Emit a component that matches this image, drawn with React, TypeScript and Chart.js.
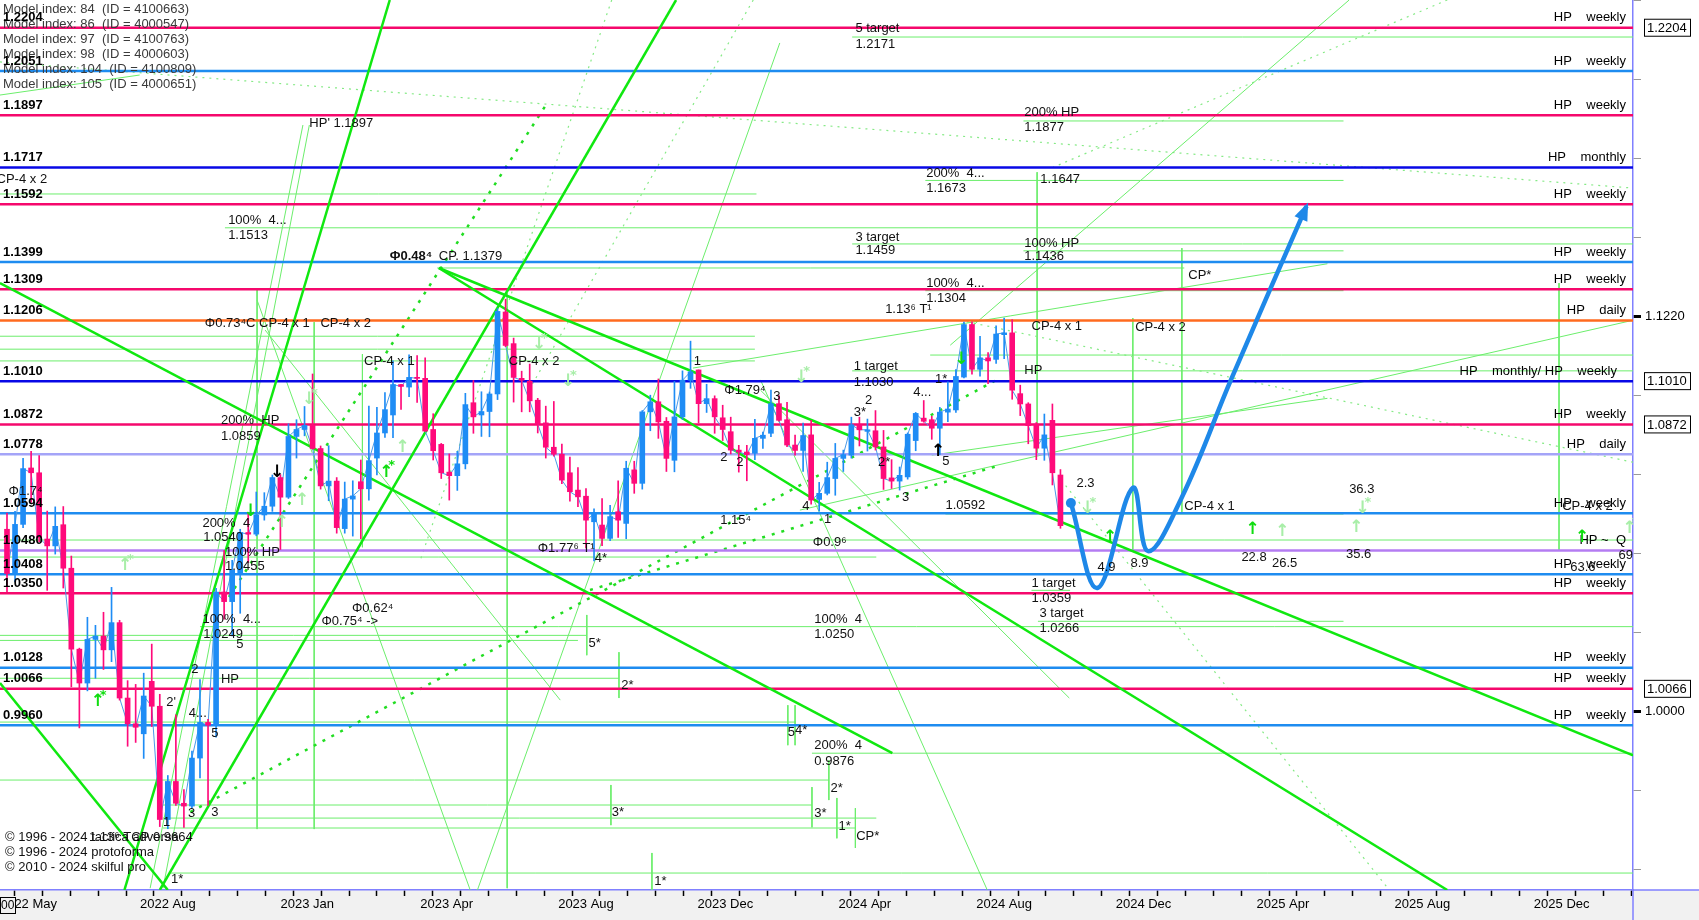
import React, { useEffect, useRef } from 'react';
import { Chart, registerables } from 'chart.js';

Chart.register(...registerables);

const FONT = '"Liberation Sans", Arial, sans-serif';

// ---- weekly candles (bar index 0 = first week shown) ----
const OPEN = [1.0545,1.0410,1.0560,1.0735,1.0720,1.0515,1.0494,1.0559,1.0426,1.0183,1.0083,1.0212,1.0222,1.0181,1.0262,1.0039,0.9964,0.9935,1.0088,1.0015,
0.9690,0.9798,0.9736,0.9728,0.9865,0.9968,0.9960,1.0354,1.0325,1.0410,1.0535,1.0530,1.0589,1.0616,1.0705,1.0644,1.0834,1.0856,1.0869,1.0796,
1.0679,1.0694,1.0547,1.0638,1.0692,1.0670,1.0766,1.0845,1.0902,1.0999,1.0991,1.1022,1.1019,1.0856,1.0809,1.0722,1.0711,1.0748,1.0941,1.0902,
1.0913,1.0969,1.1234,1.1131,1.1019,1.1010,1.0949,1.0877,1.0800,1.0778,1.0720,1.0666,1.0647,1.0568,1.0558,1.0517,1.0599,1.0563,1.0729,1.0687,
1.0912,1.0944,1.0882,1.0759,1.0896,1.1013,1.1046,1.0938,1.0954,1.0893,1.0849,1.0791,1.0785,1.0781,1.0828,1.0844,1.0938,1.0887,1.0807,1.0790,
1.0839,1.0637,1.0656,1.0702,1.0765,1.0775,1.0871,1.0850,1.0852,1.0801,1.0704,1.0694,1.0707,1.0821,1.0892,1.0887,1.0860,1.0911,1.0918,1.1023,
1.1193,1.1048,1.1085,1.1080,1.1160,1.1166,1.0970,1.0937,1.0873,1.0797,1.0885,1.0713];
const HIGH = [1.0595,1.0600,1.0765,1.0787,1.0774,1.0601,1.0614,1.0615,1.0463,1.0186,1.0278,1.0254,1.0293,1.0368,1.0269,1.0090,1.0079,1.0112,1.0198,1.0050,
0.9815,0.9990,0.9775,0.9885,1.0093,0.9977,1.0365,1.0480,1.0450,1.0545,1.0594,1.0660,1.0658,1.0713,1.0714,1.0874,1.0887,1.0929,1.1033,1.0804,
1.0805,1.0705,1.0691,1.0695,1.0760,1.0930,1.0926,1.0973,1.1075,1.1000,1.1095,1.1092,1.1085,1.0906,1.0812,1.0779,1.0787,1.0971,1.1012,1.0976,
1.0975,1.1245,1.1276,1.1149,1.1042,1.1065,1.0955,1.0930,1.0945,1.0810,1.0769,1.0736,1.0671,1.0608,1.0640,1.0619,1.0695,1.0756,1.0756,1.0916,
1.0965,1.1017,1.0894,1.1009,1.1043,1.1139,1.1046,1.1000,1.0963,1.0933,1.0895,1.0806,1.0806,1.0888,1.0848,1.0981,1.0964,1.0942,1.0838,1.0876,
1.0885,1.0690,1.0753,1.0812,1.0791,1.0895,1.0895,1.0889,1.0916,1.0853,1.0761,1.0738,1.0845,1.0910,1.0948,1.0898,1.0926,1.1008,1.1047,1.1201,
1.1202,1.1155,1.1102,1.1189,1.1214,1.1209,1.0997,1.0941,1.0878,1.0905,1.0937,1.0730];
const LOW = [1.0355,1.0385,1.0550,1.0628,1.0507,1.0359,1.0469,1.0366,1.0072,0.9952,1.0060,1.0097,1.0123,1.0146,1.0033,0.9899,0.9910,0.9864,0.9956,0.9670,
0.9664,0.9730,0.9668,0.9723,0.9808,0.9730,0.9925,1.0272,1.0222,1.0290,1.0443,1.0525,1.0573,1.0600,1.0483,1.0640,1.0766,1.0836,1.0794,1.0669,
1.0633,1.0533,1.0533,1.0524,1.0516,1.0635,1.0713,1.0831,1.0830,1.0920,1.0960,1.0942,1.0850,1.0760,1.0702,1.0635,1.0665,1.0732,1.0844,1.0834,
1.0833,1.0951,1.1121,1.0943,1.0912,1.0912,1.0845,1.0766,1.0772,1.0686,1.0632,1.0615,1.0488,1.0448,1.0495,1.0510,1.0520,1.0516,1.0656,1.0669,
1.0852,1.0828,1.0724,1.0723,1.0888,1.0987,1.0877,1.0910,1.0844,1.0821,1.0779,1.0722,1.0695,1.0761,1.0796,1.0833,1.0882,1.0802,1.0775,1.0724,
1.0622,1.0601,1.0651,1.0650,1.0724,1.0766,1.0804,1.0788,1.0791,1.0668,1.0671,1.0666,1.0700,1.0789,1.0879,1.0825,1.0777,1.0881,1.0910,1.1020,
1.1032,1.1026,1.1002,1.1067,1.1082,1.0952,1.0900,1.0811,1.0761,1.0759,1.0682,1.0548];
const CLOSE = [1.0410,1.0560,1.0733,1.0720,1.0519,1.0494,1.0554,1.0426,1.0183,1.0083,1.0212,1.0222,1.0181,1.0262,1.0039,0.9964,0.9954,1.0045,1.0015,0.9690,
0.9798,0.9736,0.9728,0.9865,0.9968,0.9960,1.0354,1.0325,1.0420,1.0535,1.0530,1.0589,1.0616,1.0705,1.0644,1.0834,1.0856,1.0869,1.0796,1.0679,
1.0694,1.0550,1.0638,1.0648,1.0670,1.0758,1.0845,1.0919,1.0999,1.0993,1.1022,1.1019,1.0851,1.0789,1.0720,1.0711,1.0748,1.0935,1.0896,1.0913,
1.0969,1.1236,1.1125,1.1022,1.1013,1.0947,1.0873,1.0800,1.0778,1.0697,1.0661,1.0645,1.0573,1.0592,1.0517,1.0584,1.0573,1.0734,1.0687,1.0912,
1.0944,1.0880,1.0765,1.0896,1.1013,1.1040,1.0938,1.0954,1.0896,1.0856,1.0791,1.0785,1.0777,1.0828,1.0838,1.0938,1.0885,1.0807,1.0790,1.0837,
1.0635,1.0656,1.0705,1.0765,1.0777,1.0871,1.0855,1.0855,1.0801,1.0702,1.0694,1.0712,1.0841,1.0907,1.0882,1.0860,1.0911,1.0921,1.1025,1.1193,
1.1048,1.1085,1.1075,1.1162,1.1166,1.0981,1.0937,1.0868,1.0797,1.0839,1.0720,1.0556];

// ---- axes ----
const X_MIN = -0.87;
const X_MAX = 202.2;
const X_TICK_POS = [2.67, 20, 37.33, 54.67, 72, 89.33, 106.67, 124, 141.33, 158.67, 176, 193.33];
const X_TICK_LABELS = ['2022 May','2022 Aug','2023 Jan','2023 Apr','2023 Aug','2023 Dec','2024 Apr','2024 Aug','2024 Dec','2025 Apr','2025 Aug','2025 Dec'];
const Y_MIN = 0.9493;
const Y_MAX = 1.2303;
const Y_TICKS = [0.9550, 0.9772, 1.0000, 1.0233, 1.0471, 1.0715, 1.0964, 1.1220, 1.1481, 1.1748, 1.2022, 1.2302];
const Y_LABELED = [1.0000, 1.1220];
const Y_BOXED = [1.2204, 1.1010, 1.0872, 1.0066];

// ---- HP levels ----
const HP_LEVELS = [1.2204,1.2051,1.1897,1.1717,1.1592,1.1399,1.1309,1.1206,1.1010,1.0872,1.0778,1.0594,1.0480,1.0408,1.0350,1.0128,1.0066,0.9960];
const HP_KIND = ['m','b','m','n','m','b','m','o','n','m','l','b','p','b','m','b','m','b'];
const HP_RIGHT = ['HP    weekly','HP    weekly','HP    weekly','HP    monthly','HP    weekly','HP    weekly','HP    weekly','HP    daily','HP    monthly/ HP    weekly','HP    weekly','HP    daily','HP    weekly','HP ~  Q','HP    weekly','HP    weekly','HP    weekly','HP    weekly','HP    weekly'];

// ---- drawn analysis lines: [x1, price1, x2, price2] ----
const THICK_LINES = [
  [-0.87, 1.1329, 110.1, 0.9879],
  [53.7, 1.1379, 202.2, 0.9873],
  [53.7, 1.1379, 179.1, 0.9493],
  [47.6, 1.2303, 14.6, 0.9493],
  [83.2, 1.2303, 19.0, 0.9493],
  [-0.87, 1.0083, 20.0, 0.9493],
];
const THIN_LINES = [
  [37.6, 1.1863, 19.4, 0.9498],
  [36.8, 1.1863, 17.8, 0.9498],
  [96.1, 1.2150, 58.5, 0.9493],
  [166.9, 1.2303, 117.3, 1.1126],
  [85.3, 1.1052, 164.2, 1.1393],
  [98.6, 1.0604, 202.2, 1.1207],
  [115.0, 1.0775, 164.2, 1.0955],
  [93.7, 1.1014, 121.9, 0.9493],
  [93.7, 1.0981, 132.1, 1.0039],
  [-0.87, 1.1967, 16.5, 1.2037],
  [31.1, 1.1273, 57.6, 0.9493],
  [32.1, 1.1175, 68.8, 1.0033],
];
const DOTTED_LINES = [
  [-0.87, 1.2083, 202.2, 1.1647],
  [118.5, 1.1207, 202.2, 1.0753],
  [179.1, 1.2303, 130.1, 1.1718],
  [92.8, 1.2303, 64.9, 1.0981],
  [75.2, 1.2303, 51.4, 1.0451],
  [131.1, 1.0697, 171.9, 0.9493],
];
const THICK_DOTTED = [
  [22.8, 0.9711, 123.5, 1.1020],
  [27.6, 1.0339, 67.2, 1.1940],
  [72.5, 1.0360, 123.5, 1.0744],
];
// [x1, x2, price]
const H_SEGS = [
  [105.1, 202.2, 1.2171], [126.4, 166.2, 1.1877], [114.2, 166.2, 1.1673], [-0.87, 93.2, 1.1627],
  [27.1, 202.2, 1.1513], [105.1, 202.2, 1.1459], [126.4, 166.2, 1.1436], [53.5, 146.4, 1.1379],
  [114.2, 166.2, 1.1304], [-0.87, 93.0, 1.1155], [-0.87, 93.0, 1.1113], [-0.87, 93.0, 1.1075],
  [114.8, 202.2, 1.1094], [105.1, 202.2, 1.1043], [116.7, 166.2, 1.0592], [-0.87, 202.2, 1.0512],
  [-0.87, 108.1, 1.0460], [127.4, 132.2, 1.0359], [128.2, 166.2, 1.0266], [24.0, 202.2, 1.0250],
  [-0.87, 72.1, 1.0224], [-0.87, 71.0, 1.0209], [-0.87, 76.1, 1.0097], [-0.87, 98.1, 0.9969],
  [100.1, 202.2, 0.9879], [-0.87, 102.2, 0.9802], [19.4, 100.1, 0.9731], [19.4, 108.1, 0.9694],
  [19.4, 105.5, 0.9666], [20.3, 202.2, 0.9540],
];
// [x, price1, price2]
const V_SEGS = [
  [31.1, 1.1306, 0.9663], [38.2, 1.1201, 0.9663], [44.2, 1.1097, 1.0490], [62.2, 1.1296, 0.9498],
  [128.1, 1.1701, 1.0775], [140.0, 1.1214, 1.0481], [146.1, 1.1445, 1.0595], [193.0, 1.1329, 1.0481],
  [72.1, 1.0285, 1.0165], [76.1, 1.0174, 1.0039], [97.1, 1.0018, 0.9902], [98.0, 1.0018, 0.9902],
  [102.2, 0.9859, 0.9745], [75.1, 0.9788, 0.9674], [100.1, 0.9782, 0.9668], [103.2, 0.9751, 0.9637],
  [105.5, 0.9722, 0.9610], [80.2, 0.9596, 0.9493],
];

// ---- projected path ----
const PROJ_X = [132.3, 135.6, 140.0, 141.9, 146.1, 152.2, 161.6];
const PROJ_Y = [1.0626, 1.0366, 1.0673, 1.0478, 1.0644, 1.1014, 1.1586];

// ---- text notes: [x, price, text] ----
const NOTES: [number, number, string][] = [
  [105.5, 1.2200, '5 target'], [105.5, 1.2146, '1.2171'],
  [126.5, 1.1905, '200% HP'], [126.5, 1.1853, '1.1877'],
  [114.3, 1.1698, '200%  4...'], [114.3, 1.1647, '1.1673'], [128.5, 1.1678, '1.1647'],
  [105.5, 1.1482, '3 target'], [105.5, 1.1436, '1.1459'],
  [126.5, 1.1462, '100% HP'], [126.5, 1.1416, '1.1436'], [146.9, 1.1356, 'CP*'],
  [114.3, 1.1329, '100%  4...'], [114.3, 1.1280, '1.1304'], [109.2, 1.1243, '1.13⁶ T¹'],
  [37.6, 1.1870, "HP' 1.1897"], [27.5, 1.1539, '100%  4...'], [27.5, 1.1489, '1.1513'],
  [53.7, 1.1416, 'CP. 1.1379'], [-1.3, 1.1678, 'CP-4 x 2'],
  [24.6, 1.1198, 'Φ0.73⁴C CP-4 x 1   CP-4 x 2'], [44.4, 1.1072, 'CP-4 x 1'], [62.4, 1.1072, 'CP-4 x 2'],
  [26.6, 1.0886, '200%  HP'], [26.6, 1.0835, '1.0859'],
  [24.3, 1.0564, '200%  4'], [24.4, 1.0521, '1.0540'],
  [27.1, 1.0475, '100% HP'], [27.1, 1.0432, '1.0455'],
  [42.9, 1.0306, 'Φ0.62⁴'], [39.1, 1.0267, 'Φ0.75⁴ ->'],
  [24.3, 1.0273, '100%  4...'], [24.4, 1.0227, '1.0249'],
  [28.5, 1.0198, '5'], [22.9, 1.0124, '2'], [26.6, 1.0094, 'HP'], [19.8, 1.0027, "2'"],
  [22.6, 0.9995, '4...'], [25.4, 0.9937, '5'], [22.5, 0.9708, '3'], [25.4, 0.9711, '3'], [19.4, 0.9682, '1'],
  [0.2, 1.0663, 'Φ1.7⁴'], [66.0, 1.0487, 'Φ1.77⁶ T¹'], [73.1, 1.0457, '4*'],
  [88.7, 1.0573, '1.15⁴'], [100.2, 1.0506, 'Φ0.9⁶'], [98.9, 1.0616, '4'], [101.6, 1.0576, '1'],
  [88.7, 1.0769, '2'], [90.7, 1.0753, '2'], [85.4, 1.1072, '1'], [89.2, 1.0981, 'Φ1.79⁴'], [95.3, 1.0962, '3'],
  [105.3, 1.1056, '1 target'], [105.3, 1.1007, '1.1030'], [105.3, 1.0911, '3*'], [106.7, 1.0949, '2'],
  [112.7, 1.0975, '4...'], [115.4, 1.1017, '1*'], [108.3, 1.0753, '2*'], [111.3, 1.0644, '3'], [116.3, 1.0756, '5'],
  [116.7, 1.0620, '1.0592'], [126.5, 1.1043, 'HP'], [127.4, 1.1188, 'CP-4 x 1'], [133.0, 1.0688, '2.3'],
  [127.4, 1.0381, '1 target'], [127.4, 1.0336, '1.0359'], [128.4, 1.0291, '3 target'], [128.4, 1.0246, '1.0266'],
  [100.4, 1.0273, '100%  4'], [100.4, 1.0227, '1.0250'], [72.3, 1.0201, '5*'], [76.4, 1.0077, '2*'],
  [97.1, 0.9940, '5'], [98.0, 0.9946, '4*'], [100.4, 0.9900, '200%  4'], [100.4, 0.9856, '0.9876'],
  [102.4, 0.9779, '2*'], [75.2, 0.9711, '3*'], [100.4, 0.9708, '3*'], [103.4, 0.9671, '1*'],
  [105.6, 0.9643, 'CP*'], [80.5, 0.9518, '1*'],
  [135.6, 1.0429, '4.9'], [139.7, 1.0441, '8.9'], [153.5, 1.0460, '22.8'], [157.3, 1.0441, '26.5'],
  [166.5, 1.0469, '35.6'], [166.9, 1.0669, '36.3'], [146.4, 1.0616, 'CP-4 x 1'], [140.3, 1.1185, 'CP-4 x 2'],
  [193.4, 1.0616, 'CP-4 x 2'], [200.4, 1.0466, '69'], [194.4, 1.0429, '63.6'],
  [10.2, 0.9640, '1.13⁶ TCP 0.9664'], [20.4, 0.9521, '1*'],
];
const BOLD_NOTES: [number, number, string][] = [[47.6, 1.1416, 'Φ0.48⁴']];
// [x, price, glyph, colour key]
const ARROWS: [number, number, string, string][] = [
  [136.3, 1.0521, '↑', 'g'], [154.0, 1.0543, '↑', 'g'], [195.0, 1.0521, '↑', 'g'],
  [157.7, 1.0537, '↑', 'l'], [166.9, 1.0549, '↑', 'l'], [133.5, 1.0610, '↓*', 'l'], [167.7, 1.0610, '↓*', 'l'],
  [200.9, 1.0546, '↑*', 'l'], [10.4, 1.0030, '↑*', 'g'], [46.3, 1.0722, '↑*', 'g'],
  [32.7, 1.0722, '↓', 'k'], [114.9, 1.0785, '↑', 'k'], [29.4, 1.0600, '↓', 'g'], [117.8, 1.1078, '↓', 'g'],
  [36.7, 1.0952, '↓*', 'l'], [65.3, 1.1129, '↓*', 'l'], [97.9, 1.1020, '↓*', 'l'], [68.9, 1.1007, '↓*', 'l'],
  [33.3, 1.0567, '↑', 'l'], [35.8, 1.0632, '↑', 'l'], [48.3, 1.0800, '↑', 'l'], [13.8, 1.0435, '↑*', 'l'],
];
const MODEL_TEXT = [
  'Model index: 84  (ID = 4100663)', 'Model index: 86  (ID = 4000547)', 'Model index: 97  (ID = 4100763)',
  'Model index: 98  (ID = 4000603)', 'Model index: 104  (ID = 4100809)', 'Model index: 105  (ID = 4000651)',
];
const COPYRIGHT = ['© 1996 - 2024 tactica adversa', '© 1996 - 2024 protoforma', '© 2010 - 2024 skilful pro'];

const COLORS: Record<string, string> = {
  m: '#f5086c', b: '#1e8cf0', n: '#0808e6', o: '#ff6a1e', l: '#a4a4f8', p: '#b47cf2',
};
const UP = '#1e8cf5';
const DOWN = '#ff0a7a';
const GREEN = '#10e810';
const THIN_GREEN = '#6cee6c';
const LIGHT_GREEN = '#86ea86';
const ARROW_COL: Record<string, string> = { g: '#10dd10', l: '#a8eea8', k: '#000000' };

function lineDs(data: any[], color: string, width: number, order: number, dash: number[] = []) {
  return {
    type: 'line' as const, data, borderColor: color, borderWidth: width, borderDash: dash,
    pointRadius: 0, fill: false, tension: 0, order,
  };
}

function buildDatasets() {
  const ds: any[] = [];
  ds.push({
    type: 'line', data: PROJ_X.map((x, i) => ({ x, y: PROJ_Y[i] })), borderColor: '#1e88e8', borderWidth: 4.5,
    tension: 0.38, fill: false, order: 0,
    pointRadius: PROJ_X.map((_, i) => (i === 0 ? 5 : 0)), pointBackgroundColor: '#1e88e8', pointBorderWidth: 0,
  });
  const idx = OPEN.map((_, i) => i);
  const col = idx.map((i) => (CLOSE[i] >= OPEN[i] ? UP : DOWN));
  ds.push({ type: 'bar', data: idx.map((i) => ({ x: i, y: [OPEN[i], CLOSE[i]] })), backgroundColor: col,
    barThickness: 5, grouped: false, minBarLength: 1, order: 1 });
  ds.push({ type: 'bar', data: idx.map((i) => ({ x: i, y: [LOW[i], HIGH[i]] })), backgroundColor: col,
    barThickness: 1, grouped: false, order: 2 });
  ds.push(lineDs(idx.map((i) => ({ x: i, y: CLOSE[i] })), '#4a9ae8', 1, 3));
  THICK_LINES.forEach(([a, b, c, d]) => ds.push(lineDs([{ x: a, y: b }, { x: c, y: d }], GREEN, 2.5, 4)));
  HP_LEVELS.forEach((lv, i) => ds.push(lineDs([{ x: X_MIN - 1, y: lv }, { x: X_MAX + 1, y: lv }], COLORS[HP_KIND[i]], 2.5, 5)));
  THICK_DOTTED.forEach(([a, b, c, d]) => ds.push(lineDs([{ x: a, y: b }, { x: c, y: d }], '#22dd22', 2.5, 6, [3, 7])));
  THIN_LINES.forEach(([a, b, c, d]) => ds.push(lineDs([{ x: a, y: b }, { x: c, y: d }], THIN_GREEN, 1, 7)));
  DOTTED_LINES.forEach(([a, b, c, d]) => ds.push(lineDs([{ x: a, y: b }, { x: c, y: d }], LIGHT_GREEN, 1.2, 7, [2, 5])));
  H_SEGS.forEach(([a, b, p]) => ds.push(lineDs([{ x: a, y: p }, { x: b, y: p }], THIN_GREEN, 1, 7)));
  V_SEGS.forEach(([x, p1, p2]) => ds.push(lineDs([{ x, y: p1 }, { x, y: p2 }], THIN_GREEN, 1, 7)));
  return ds;
}

const overlay = {
  id: 'overlay',
  beforeDraw(chart: any) {
    const { ctx, width, height, chartArea } = chart;
    ctx.save();
    ctx.fillStyle = '#ffffff';
    ctx.fillRect(0, 0, width, height);
    ctx.fillStyle = '#f1f1f1';
    ctx.fillRect(0, chartArea.bottom, width, height - chartArea.bottom);
    ctx.restore();
  },
  afterDatasetsDraw(chart: any) {
    const { ctx, chartArea: ca } = chart;
    const xs = chart.scales.x;
    const ys = chart.scales.y;
    const X = (v: number) => xs.getPixelForValue(v);
    const Y = (v: number) => ys.getPixelForValue(v);
    ctx.save();
    ctx.beginPath();
    ctx.rect(ca.left, ca.top, ca.right - ca.left, ca.bottom - ca.top);
    ctx.clip();
    ctx.textBaseline = 'middle';

    // arrow head of projection
    const meta = chart.getDatasetMeta(0);
    const pts = meta.data;
    const last = pts[pts.length - 1];
    const prev = pts[pts.length - 2];
    const useCp = last.cp1x !== undefined && Math.abs(last.cp1x - last.x) + Math.abs(last.cp1y - last.y) > 1;
    const bx = useCp ? last.cp1x : prev.x;
    const by = useCp ? last.cp1y : prev.y;
    const ang = Math.atan2(last.y - by, last.x - bx);
    ctx.fillStyle = '#1e88e8';
    ctx.beginPath();
    ctx.moveTo(last.x + Math.cos(ang) * 4, last.y + Math.sin(ang) * 4);
    ctx.lineTo(last.x - Math.cos(ang) * 14 + Math.sin(ang) * 7, last.y - Math.sin(ang) * 14 - Math.cos(ang) * 7);
    ctx.lineTo(last.x - Math.cos(ang) * 14 - Math.sin(ang) * 7, last.y - Math.sin(ang) * 14 + Math.cos(ang) * 7);
    ctx.closePath();
    ctx.fill();

    // model index header
    ctx.font = `13px ${FONT}`;
    ctx.fillStyle = '#3a3a3a';
    ctx.textAlign = 'left';
    MODEL_TEXT.forEach((t, i) => ctx.fillText(t, ca.left + 3, ca.top + 9 + 15 * i));

    // HP labels
    HP_LEVELS.forEach((lv, i) => {
      const y = Y(lv);
      ctx.fillStyle = '#000';
      ctx.font = `bold 13px ${FONT}`;
      ctx.textAlign = 'left';
      ctx.fillText(lv.toFixed(4), ca.left + 3, y - 10);
      ctx.font = `13px ${FONT}`;
      ctx.textAlign = 'right';
      const r = HP_RIGHT[i].includes('/') ? ca.right - 16 : ca.right - 7;
      ctx.fillText(HP_RIGHT[i], r, y - 10);
    });

    // notes
    ctx.textAlign = 'left';
    ctx.fillStyle = '#111';
    ctx.font = `13px ${FONT}`;
    NOTES.forEach(([x, p, t]) => ctx.fillText(t, X(x), Y(p)));
    ctx.font = `bold 13px ${FONT}`;
    BOLD_NOTES.forEach(([x, p, t]) => ctx.fillText(t, X(x), Y(p)));

    // arrows
    ARROWS.forEach(([x, p, g, c]) => {
      const px = X(x);
      const py = Y(p);
      ctx.fillStyle = ARROW_COL[c];
      ctx.font = `bold 17px "DejaVu Sans", sans-serif`;
      ctx.fillText(g[0], px, py);
      if (g.length > 1) {
        ctx.font = `bold 13px "DejaVu Sans", sans-serif`;
        ctx.fillText('*', px + 9, py - 6);
      }
    });

    // copyright
    ctx.fillStyle = '#111';
    ctx.font = `13px ${FONT}`;
    COPYRIGHT.forEach((t, i) => ctx.fillText(t, ca.left + 5, ca.bottom - 53 + 15 * i));
    ctx.restore();
  },
  afterDraw(chart: any) {
    const { ctx, chartArea: ca, width, height } = chart;
    const ys = chart.scales.y;
    ctx.save();
    ctx.strokeStyle = '#8080ff';
    ctx.lineWidth = 1.5;
    ctx.beginPath();
    ctx.moveTo(ca.right, ca.bottom);
    ctx.lineTo(ca.right, height);
    ctx.moveTo(ca.right, ca.bottom);
    ctx.lineTo(width, ca.bottom);
    ctx.stroke();
    ctx.font = `13px ${FONT}`;
    ctx.textBaseline = 'middle';
    ctx.textAlign = 'left';
    Y_BOXED.forEach((v) => {
      const y = ys.getPixelForValue(v);
      ctx.fillStyle = '#fff';
      ctx.fillRect(ca.right + 11, y - 8.5, 47, 17);
      ctx.strokeStyle = '#000';
      ctx.lineWidth = 1;
      ctx.strokeRect(ca.right + 11.5, y - 8.5, 46, 17);
      ctx.fillStyle = '#000';
      ctx.fillText(v.toFixed(4), ca.right + 14, y + 0.5);
    });
    // bottom-left frame box
    ctx.fillStyle = '#f1f1f1';
    ctx.fillRect(0, ca.bottom + 7, 16, 17);
    ctx.strokeStyle = '#000';
    ctx.strokeRect(0.5, ca.bottom + 7.5, 15, 16);
    ctx.fillStyle = '#000';
    ctx.font = `12px ${FONT}`;
    ctx.fillText('00', 1, ca.bottom + 16);
    ctx.restore();
  },
};

function allXTicks() {
  const out: number[] = [];
  for (let i = 0; i < X_TICK_POS.length; i++) {
    out.push(X_TICK_POS[i]);
    const next = i + 1 < X_TICK_POS.length ? X_TICK_POS[i + 1] : X_TICK_POS[i] + (X_TICK_POS[i] - X_TICK_POS[i - 1]);
    for (let k = 1; k < 5; k++) {
      const v = X_TICK_POS[i] + ((next - X_TICK_POS[i]) * k) / 5;
      if (v < X_MAX) out.push(v);
    }
  }
  return out;
}

export default function App() {
  const ref = useRef<HTMLCanvasElement>(null);
  useEffect(() => {
    document.body.style.margin = '0';
    Chart.defaults.font.family = FONT;
    const canvas = ref.current!;
    const xTicks = allXTicks();
    const chart = new Chart(canvas, {
      type: 'line',
      data: { datasets: buildDatasets() },
      options: {
        responsive: false,
        animation: false,
        events: [],
        layout: { padding: 0, autoPadding: false },
        plugins: { legend: { display: false }, tooltip: { enabled: false } },
        scales: {
          x: {
            type: 'linear', min: X_MIN, max: X_MAX, offset: false,
            afterFit: (s: any) => { s.height = 30; s.paddingLeft = 0; s.paddingRight = 0; },
            afterBuildTicks: (s: any) => { s.ticks = xTicks.map((v) => ({ value: v })); },
            ticks: {
              autoSkip: false, maxRotation: 0, minRotation: 0, padding: 1, color: '#000',
              font: { family: FONT, size: 13 },
              callback: (v: any) => { const k = X_TICK_POS.indexOf(v); return k >= 0 ? X_TICK_LABELS[k] : ''; },
            },
            grid: { drawOnChartArea: false, drawTicks: true, tickLength: 6, tickColor: '#000', tickWidth: 1.5 },
            border: { color: '#8080ff', width: 1.5 },
          },
          y: {
            type: 'logarithmic', position: 'right', min: Y_MIN, max: Y_MAX,
            afterFit: (s: any) => { s.width = 66; s.paddingTop = 0; s.paddingBottom = 0; },
            afterBuildTicks: (s: any) => { s.ticks = Y_TICKS.map((v) => ({ value: v })); },
            ticks: {
              autoSkip: false, padding: 4, color: '#000', font: { family: FONT, size: 13 },
              callback: (v: any) => (Y_LABELED.includes(v) ? Number(v).toFixed(4) : ''),
            },
            grid: {
              drawOnChartArea: false, tickLength: 8,
              tickColor: (c: any) => (c.tick && Y_LABELED.includes(c.tick.value) ? '#000' : '#999'),
              tickWidth: (c: any) => (c.tick && Y_LABELED.includes(c.tick.value) ? 3 : 1),
            },
            border: { color: '#8080ff', width: 1.5 },
          },
        },
      } as any,
      plugins: [overlay],
    });
    return () => chart.destroy();
  }, []);
  return (
    <div style={{ width: 1699, height: 920 }}>
      <canvas ref={ref} width={1699} height={920} style={{ display: 'block', width: 1699, height: 920 }} />
    </div>
  );
}
